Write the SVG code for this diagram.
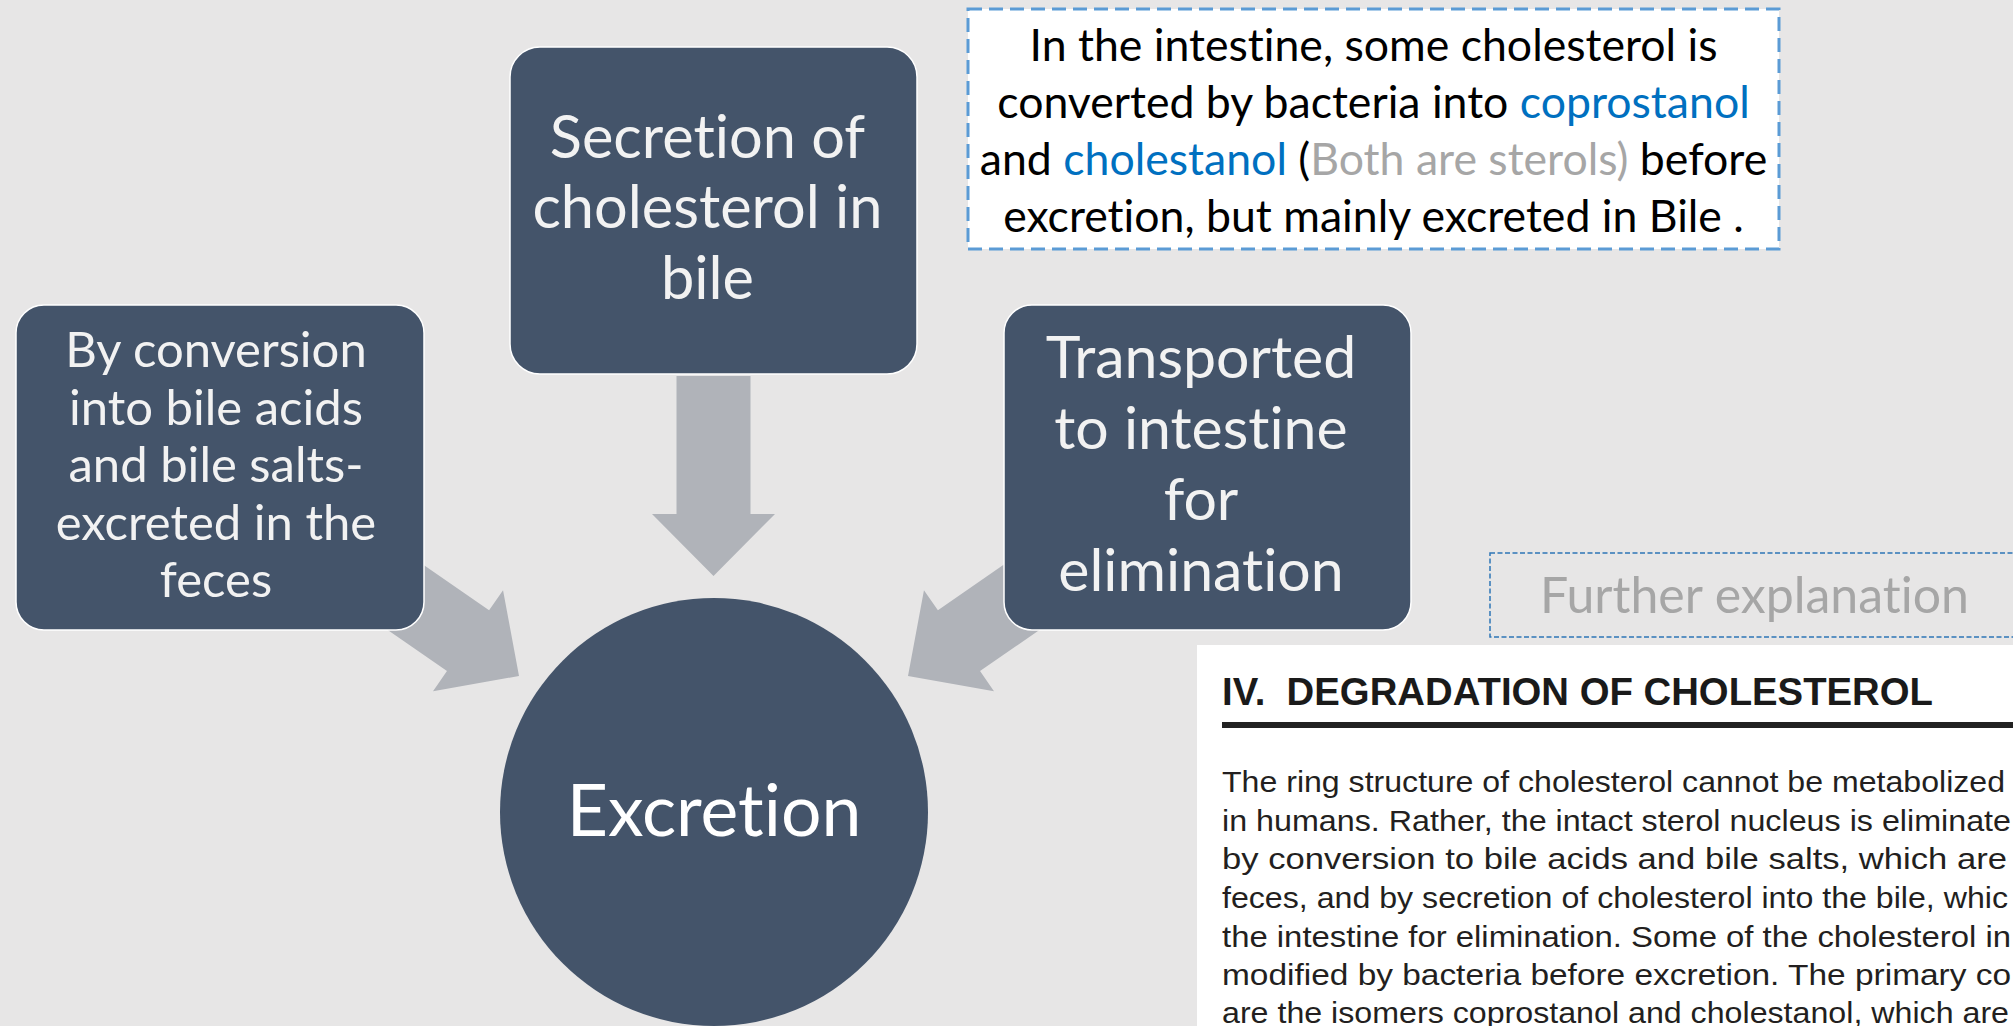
<svg xmlns="http://www.w3.org/2000/svg" width="2013" height="1026" viewBox="0 0 2013 1026">
  <style>
    text { font-variant-ligatures: none; font-feature-settings: "liga" 0, "clig" 0; }
    .node { fill: #44546a; stroke: #ffffff; stroke-width: 1.5; }
    .ntext { font-family: Lato, "Open Sans", sans-serif; fill: #f2f2f2; text-anchor: middle; }
    .arrow { fill: #b0b3b9; }
    .note { font-family: Lato, "Open Sans", sans-serif; font-size: 44.6px; fill: #000000; text-anchor: middle; }
    .blue { fill: #0070c0; }
    .gray { fill: #a6a6a6; }
    .body { font-family: "Liberation Sans", Arial, sans-serif; font-size: 30px; fill: #231f20; }
  </style>
  <defs>
    <path id="blockArrow" d="M-200,-37 L-62,-37 L-62,-61.5 L0,0 L-62,61.5 L-62,37 L-200,37 Z"/>
    <clipPath id="panelClip"><rect x="1197" y="645" width="816" height="381"/></clipPath>
  </defs>

  <rect x="0" y="0" width="2013" height="1026" fill="#e7e6e6"/>

  <g id="connectors">
    <use href="#blockArrow" class="arrow" transform="translate(713.5,576) rotate(90)"/>
    <use href="#blockArrow" class="arrow" transform="translate(519,676) rotate(34.7)"/>
    <use href="#blockArrow" class="arrow" transform="translate(908,676) rotate(145.3)"/>
  </g>

  <g id="node-secretion">
    <rect class="node" x="510" y="47" width="407" height="327" rx="30" ry="30"/>
    <text class="ntext" font-size="59.5" x="707.5" y="157.5">Secretion of</text>
    <text class="ntext" font-size="59.5" x="707.5" y="228">cholesterol in</text>
    <text class="ntext" font-size="59.5" x="707.5" y="299">bile</text>
  </g>

  <g id="node-conversion">
    <rect class="node" x="16" y="305" width="408" height="325" rx="28" ry="28"/>
    <text class="ntext" font-size="49" x="216" y="367">By conversion</text>
    <text class="ntext" font-size="49" x="216" y="424.5">into bile acids</text>
    <text class="ntext" font-size="49" x="216" y="482">and bile salts-</text>
    <text class="ntext" font-size="49" x="216" y="539.5">excreted in the</text>
    <text class="ntext" font-size="49" x="216" y="597">feces</text>
  </g>

  <g id="node-transported">
    <rect class="node" x="1004" y="305" width="407" height="325" rx="28" ry="28"/>
    <text class="ntext" font-size="59" x="1201" y="378">Transported</text>
    <text class="ntext" font-size="59" x="1201" y="449">to intestine</text>
    <text class="ntext" font-size="59" x="1201" y="520">for</text>
    <text class="ntext" font-size="59" x="1201" y="591">elimination</text>
  </g>

  <g id="node-excretion">
    <circle cx="714" cy="812" r="214" fill="#44546a"/>
    <text class="ntext" font-size="71.5" x="714" y="836" style="fill:#ffffff">Excretion</text>
  </g>

  <g id="note-intestine">
    <rect x="968" y="9" width="811" height="240" fill="#ffffff" stroke="#5b9bd5" stroke-width="3" stroke-dasharray="14 7"/>
    <text class="note" x="1373.5" y="61">In the intestine, some cholesterol is</text>
    <text class="note" x="1373.5" y="118">converted by bacteria into <tspan class="blue">coprostanol</tspan></text>
    <text class="note" x="1373.5" y="175">and <tspan class="blue">cholestanol</tspan> (<tspan class="gray">Both are sterols)</tspan> before</text>
    <text class="note" x="1373.5" y="231.5">excretion, but mainly excreted in Bile .</text>
  </g>

  <g id="further-explanation">
    <rect x="1490" y="553" width="540" height="84" fill="none" stroke="#2e75b6" stroke-width="1.5" stroke-dasharray="5 2.5"/>
    <text x="1540" y="613" font-family="Lato, 'Open Sans', sans-serif" font-size="50" fill="#a6a6a6">Further explanation</text>
  </g>

  <g id="textbook-excerpt">
    <rect x="1197" y="645" width="830" height="400" fill="#ffffff"/>
    <g clip-path="url(#panelClip)">
      <text x="1222" y="705" xml:space="preserve" font-family="'Liberation Sans', Arial, sans-serif" font-weight="bold" font-size="38" fill="#1a1a1a" textLength="711" lengthAdjust="spacingAndGlyphs">IV.&#160; DEGRADATION OF CHOLESTEROL</text>
      <rect x="1222" y="722" width="800" height="6" fill="#222222"/>
      <text class="body" x="1222" y="791.7" textLength="783" lengthAdjust="spacingAndGlyphs">The ring structure of cholesterol cannot be metabolized</text>
      <text class="body" x="1222" y="830.7" textLength="789" lengthAdjust="spacingAndGlyphs">in humans. Rather, the intact sterol nucleus is eliminate</text>
      <text class="body" x="1222" y="869.3" textLength="785" lengthAdjust="spacingAndGlyphs">by conversion to bile acids and bile salts, which are</text>
      <text class="body" x="1222" y="908.3" textLength="786" lengthAdjust="spacingAndGlyphs">feces, and by secretion of cholesterol into the bile, whic</text>
      <text class="body" x="1222" y="946.7" textLength="789" lengthAdjust="spacingAndGlyphs">the intestine for elimination. Some of the cholesterol in</text>
      <text class="body" x="1222" y="985" textLength="789" lengthAdjust="spacingAndGlyphs">modified by bacteria before excretion. The primary co</text>
      <text class="body" x="1222" y="1023.3" textLength="787" lengthAdjust="spacingAndGlyphs">are the isomers coprostanol and cholestanol, which are</text>
    </g>
  </g>
</svg>
